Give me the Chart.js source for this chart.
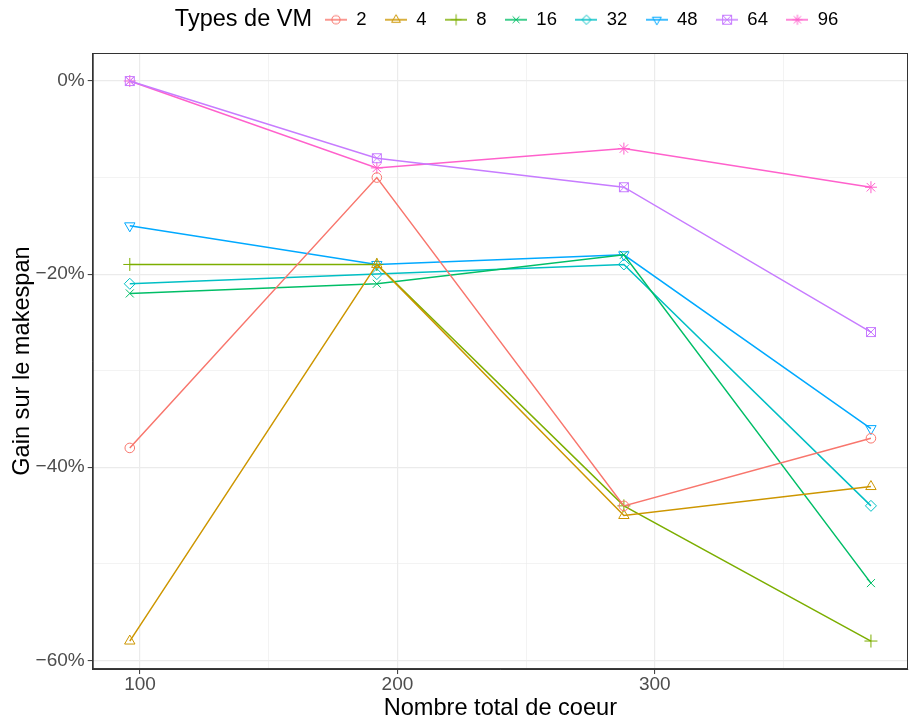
<!DOCTYPE html>
<html>
<head>
<meta charset="utf-8">
<script src="https://cdn.jsdelivr.net/npm/chart.js@4.4.1/dist/chart.umd.min.js"></script>
<style>
  html, body { margin: 0; background: #fff; }
  #wrap { width: 909px; height: 724px; }
</style>
</head>
<body>
<div id="wrap"><canvas id="chart"></canvas></div>
<script>
"use strict"

// total number of cores on the x axis
const cores = [96, 192, 288, 384];

// gain on makespan (%) per VM type
const vmTypes = ["2", "4", "8", "16", "32", "48", "64", "96"];
const gain2  = [-38, -10, -44, -37];
const gain4  = [-58, -19, -45, -42];
const gain8  = [-19, -19, -44, -58];
const gain16 = [-22, -21, -18, -52];
const gain32 = [-21, -20, -19, -44];
const gain48 = [-15, -19, -18, -36];
const gain64 = [0, -8, -11, -26];
const gain96 = [0, -9, -7, -11];

const xTicks = [100, 150, 200, 250, 300, 350];
const xLabels = [100, 200, 300];
const yTicks = [-60, -50, -40, -30, -20, -10, 0];
const yLabels = [-60, -40, -20, 0];

// ggplot hue palette
const colors = ["#F8766D", "#CD9600", "#7CAE00", "#00BE67", "#00BFC4", "#00A9FF", "#C77CFF", "#FF61CC"];

const FONT = "'Liberation Sans', Arial, sans-serif";

// square with an X inside (ggplot shape 7)
function squareCross(color) {
  const c = document.createElement("canvas");
  c.width = 12; c.height = 12;
  const g = c.getContext("2d");
  g.strokeStyle = color;
  g.lineWidth = 1;
  g.strokeRect(1.5, 1.5, 9, 9);
  g.beginPath();
  g.moveTo(1.5, 1.5); g.lineTo(10.5, 10.5);
  g.moveTo(10.5, 1.5); g.lineTo(1.5, 10.5);
  g.stroke();
  return c;
}

const styles = ["circle", "triangle", "cross", "crossRot", "rectRot", "triangle", "custom", "star"];
const rotations = [0, 0, 0, 0, 0, 180, 0, 0];
const radii = [4.8, 6, 6.5, 5.7, 5.5, 6, 5, 6];
const series = [gain2, gain4, gain8, gain16, gain32, gain48, gain64, gain96];

function pointStyleFor(i) {
  return styles[i] === "custom" ? squareCross(colors[i]) : styles[i];
}

// legend key: line segment with the symbol on it
function legendKey(i) {
  const c = document.createElement("canvas");
  c.width = 22; c.height = 14;
  const g = c.getContext("2d");
  g.strokeStyle = colors[i];
  g.fillStyle = "rgba(0,0,0,0)";
  g.lineWidth = 1.5;
  g.beginPath(); g.moveTo(0, 7); g.lineTo(22, 7); g.stroke();
  g.lineWidth = 1;
  if (styles[i] === "custom") {
    g.drawImage(squareCross(colors[i]), 5, 1);
  } else {
    Chart.helpers.drawPoint(g, { pointStyle: styles[i], radius: radii[i] * 0.85, rotation: rotations[i], borderWidth: 1 }, 11, 7);
  }
  return c;
}

const datasets = vmTypes.map((t, i) => ({
  label: t,
  data: cores.map((x, k) => ({ x: x, y: series[i][k] })),
  borderColor: colors[i],
  backgroundColor: "rgba(0,0,0,0)",
  borderWidth: 1.5,
  pointStyle: pointStyleFor(i),
  pointRotation: rotations[i],
  pointRadius: radii[i],
  pointBorderWidth: 1,
  pointBorderColor: colors[i],
  pointBackgroundColor: "rgba(0,0,0,0)",
  tension: 0
}));

const LEGEND_START = 325;
const LEGEND_SHIFT_UP = 14;

const framePlugin = {
  id: "frame",
  afterLayout(chart) {
    const lg = chart.legend;
    const pad = lg.options.labels.padding;
    const w = lg.right - lg.left;
    lg.left = LEGEND_START - pad;
    lg.right = lg.left + w;
    lg.top -= LEGEND_SHIFT_UP;
    lg.bottom -= LEGEND_SHIFT_UP;
  },
  afterDraw(chart) {
    const { ctx, chartArea: a } = chart;
    ctx.save();
    ctx.strokeStyle = "#333333";
    ctx.lineWidth = 1;
    ctx.strokeRect(a.left + 0.5, a.top + 0.5, a.right - a.left - 1, a.bottom - a.top - 1);
    const hb = chart.legend.legendHitBoxes[0];
    if (hb) {
      ctx.fillStyle = "#000";
      ctx.font = "23.5px " + FONT;
      ctx.textAlign = "right";
      ctx.textBaseline = "middle";
      ctx.fillText("Types de VM", hb.left - 13, hb.top + hb.height / 2);
    }
    ctx.restore();
  }
};

const majorX = v => xLabels.includes(v);
const majorY = v => yLabels.includes(v);

const config = {
  type: "line",
  data: { datasets: datasets },
  options: {
    responsive: true,
    maintainAspectRatio: false,
    animation: false,
    layout: { autoPadding: false, padding: { left: 11, right: 1, top: 6, bottom: 3 } },
    plugins: {
      tooltip: { enabled: false },
      legend: {
        position: "top",
        align: "start",
        labels: {
          usePointStyle: true,
          pointStyleWidth: 22,
          padding: 18.5,
          color: "#1A1A1A",
          font: { family: FONT, size: 18.5 },
          generateLabels: chart => chart.data.datasets.map((ds, i) => ({
            text: ds.label,
            pointStyle: legendKey(i),
            fillStyle: "rgba(0,0,0,0)",
            strokeStyle: "rgba(0,0,0,0)",
            lineWidth: 0,
            hidden: false,
            datasetIndex: i
          }))
        }
      }
    },
    scales: {
      x: {
        type: "linear",
        min: 81.6,
        max: 398.4,
        afterBuildTicks: s => { s.ticks = xTicks.map(v => ({ value: v })); },
        ticks: {
          autoSkip: false,
          maxRotation: 0,
          padding: 1,
          color: "#4D4D4D",
          font: { family: FONT, size: 19, lineHeight: 1 },
          callback: v => majorX(v) ? String(v) : ""
        },
        grid: {
          color: "#EBEBEB",
          lineWidth: c => majorX(c.tick.value) ? 1.2 : 0.6,
          tickLength: 5,
          tickColor: c => majorX(c.tick.value) ? "#333333" : "rgba(0,0,0,0)",
          tickWidth: 1
        },
        border: { color: "#333333", width: 1 },
        title: {
          display: true,
          text: "Nombre total de coeur",
          color: "#000",
          font: { family: FONT, size: 23.6, lineHeight: 1.1 },
          padding: { top: 0, bottom: 0 }
        }
      },
      y: {
        type: "linear",
        min: -60.9,
        max: 2.9,
        afterBuildTicks: s => { s.ticks = yTicks.map(v => ({ value: v })); },
        ticks: {
          autoSkip: false,
          padding: 3,
          color: "#4D4D4D",
          font: { family: FONT, size: 19 },
          callback: v => majorY(v) ? (v === 0 ? "0%" : "\u2212" + Math.abs(v) + "%") : ""
        },
        grid: {
          color: "#EBEBEB",
          lineWidth: c => majorY(c.tick.value) ? 1.2 : 0.6,
          tickLength: 5,
          tickColor: c => majorY(c.tick.value) ? "#333333" : "rgba(0,0,0,0)",
          tickWidth: 1
        },
        border: { color: "#333333", width: 1 },
        title: {
          display: true,
          text: "Gain sur le makespan",
          color: "#000",
          font: { family: FONT, size: 23.6, lineHeight: 1 },
          padding: { top: 0, bottom: -2 }
        }
      }
    }
  },
  plugins: [framePlugin]
};

const canvas = document.querySelector("#chart");
const chart = new Chart(canvas, config);
</script>
</body>
</html>
